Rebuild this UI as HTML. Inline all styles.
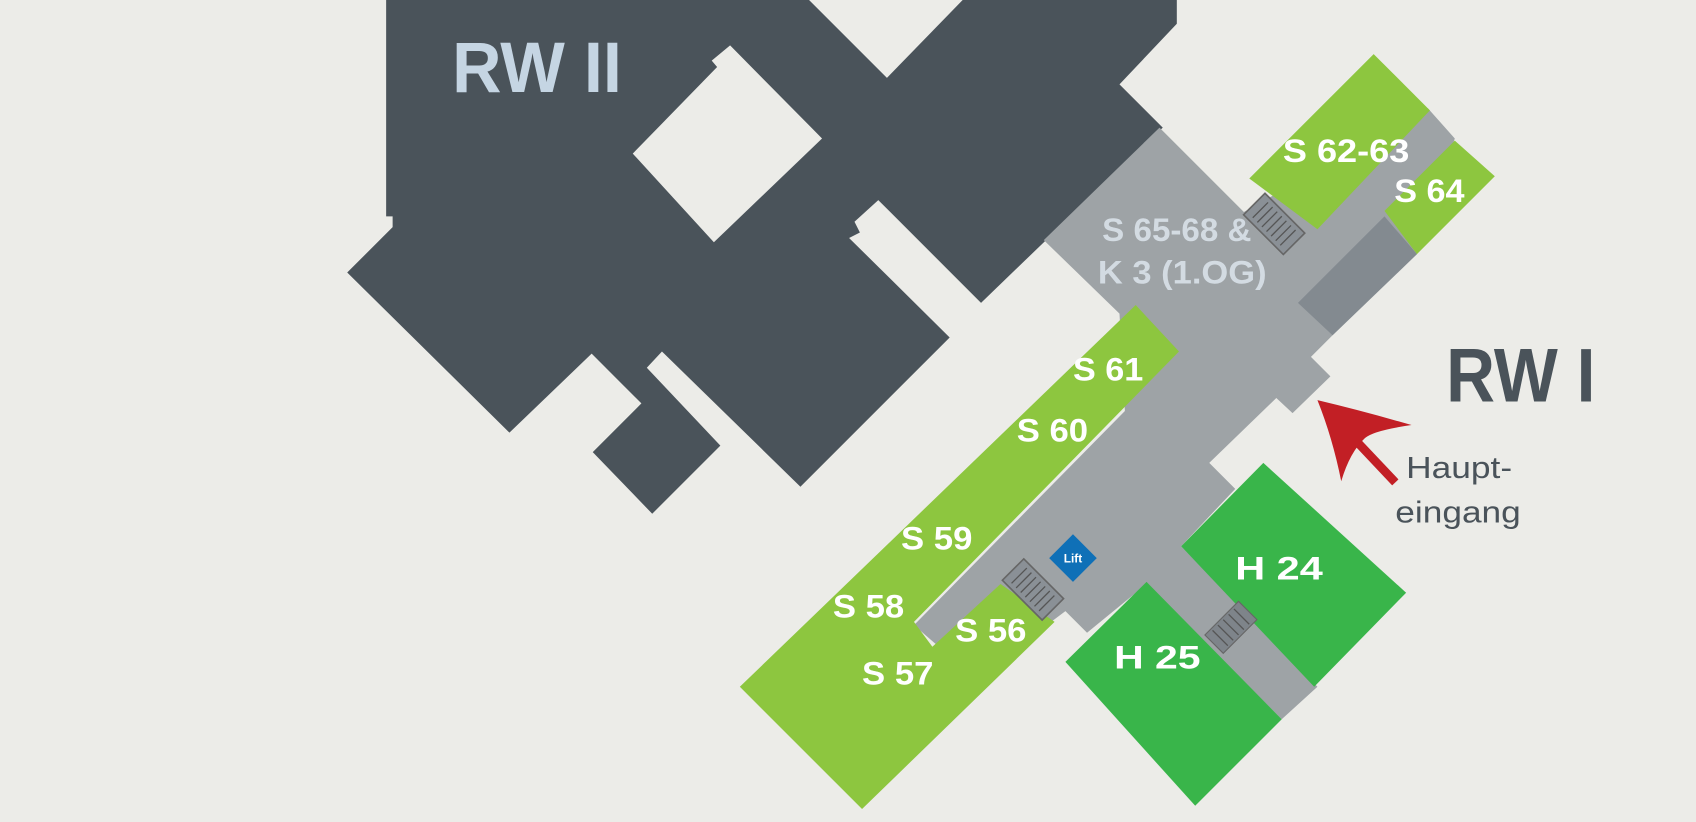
<!DOCTYPE html>
<html><head><meta charset="utf-8"><style>
html,body{margin:0;padding:0;background:#ecece8;}
svg{display:block;}
text{font-family:"Liberation Sans",sans-serif;}
</style></head><body>
<svg width="1696" height="822" viewBox="0 0 1568 760" preserveAspectRatio="none" xmlns="http://www.w3.org/2000/svg">
<rect width="1568" height="760" fill="#ecece8"/>
<!-- RW II dark building -->
<polygon fill="#4a535a" points="357,0 748,0 820,72 890,0 1088,0 1088,22 1035,78 1075,118 907,280 812,185 790,205 795,215 785,220 878,312 740,450 612,325 598,340 666,412 603,475 548,418 593,373 547,327 471,400 321,252 363,210 363,200 357,200"/>
<polygon fill="#ecece8" points="675,42 760,128 660,224 585,142 663,62 658,56"/>
<!-- grey corridor -->
<polygon fill="#9ea3a6" points="965,222 1072,118 1150,196 1320,100 1345,128 1310,235 1232,310 1212,330 1230,348 1195,382 1180,368 1118,428 1142,452 1092,505 1218,635 1185,665 1060,540 1005,585 985,565 965,580 868,598 845,578 1040,380 1035,290"/>
<polygon fill="#838a90" points="1200,280 1280,200 1310,235 1232,310"/>
<!-- light greens -->
<polygon fill="#8dc63f" points="684,635 1050,282 1090,325 845,575 862,598 925,540 975,575 797,748"/>
<polygon fill="#8dc63f" points="1155,165 1270,50 1322,102 1218,212"/>
<polygon fill="#8dc63f" points="1280,195 1345,130 1382,163 1310,235"/>
<!-- dark greens -->
<polygon fill="#39b54a" points="1092,505 1168,428 1300,548 1215,635"/>
<polygon fill="#39b54a" points="985,612 1060,538 1185,665 1105,745"/>
<!-- stairs -->
<g transform="translate(1178,207) rotate(45)"><rect x="-26" y="-14" width="52" height="28" fill="#8a9096" stroke="#666" stroke-width="1.5"/>
<g stroke="#555" stroke-width="1.2"><line x1="-18" y1="-10" x2="-18" y2="10"/><line x1="-12" y1="-10" x2="-12" y2="10"/><line x1="-6" y1="-10" x2="-6" y2="10"/><line x1="0" y1="-10" x2="0" y2="10"/><line x1="6" y1="-10" x2="6" y2="10"/><line x1="12" y1="-10" x2="12" y2="10"/><line x1="18" y1="-10" x2="18" y2="10"/></g></g>
<g transform="translate(955,545) rotate(45)"><rect x="-26" y="-14" width="52" height="28" fill="#8a9096" stroke="#666" stroke-width="1.5"/>
<g stroke="#555" stroke-width="1.2"><line x1="-18" y1="-10" x2="-18" y2="10"/><line x1="-12" y1="-10" x2="-12" y2="10"/><line x1="-6" y1="-10" x2="-6" y2="10"/><line x1="0" y1="-10" x2="0" y2="10"/><line x1="6" y1="-10" x2="6" y2="10"/><line x1="12" y1="-10" x2="12" y2="10"/><line x1="18" y1="-10" x2="18" y2="10"/></g></g>
<g transform="translate(1138,580) rotate(-45)"><rect x="-22" y="-12" width="44" height="24" fill="#7e848a" stroke="#666" stroke-width="1"/>
<g stroke="#555" stroke-width="1.2"><line x1="-14" y1="-10" x2="-14" y2="10"/><line x1="-7" y1="-10" x2="-7" y2="10"/><line x1="0" y1="-10" x2="0" y2="10"/><line x1="7" y1="-10" x2="7" y2="10"/><line x1="14" y1="-10" x2="14" y2="10"/></g></g>
<!-- lift -->
<polygon fill="#0f70b7" points="992,494 1014,516 992,538 970,516"/>
<text x="992" y="520" font-size="11" font-weight="bold" fill="#fff" text-anchor="middle">Lift</text>
<!-- arrow -->
<line x1="1256" y1="410" x2="1290" y2="446" stroke="#c21f25" stroke-width="8"/>
<path d="M1218,370 Q1260,380 1305,393 Q1270,398 1262,405 Q1248,418 1240,445 Q1232,405 1218,370 Z" fill="#c21f25"/>
<!-- texts -->
<text x="418" y="85" font-size="66" font-weight="bold" fill="#c5d5e3" textLength="157" lengthAdjust="spacingAndGlyphs">RW II</text>
<text x="1337" y="371" font-size="70" font-weight="bold" fill="#4a535a" textLength="138" lengthAdjust="spacingAndGlyphs">RW I</text>
<g font-size="30" font-weight="bold" fill="#fff">
<text x="1186" y="150" textLength="117" lengthAdjust="spacingAndGlyphs">S 62-63</text>
<text x="1289" y="187" textLength="65" lengthAdjust="spacingAndGlyphs">S 64</text>
<text x="992" y="352" textLength="65" lengthAdjust="spacingAndGlyphs">S 61</text>
<text x="940" y="408" textLength="66" lengthAdjust="spacingAndGlyphs">S 60</text>
<text x="833" y="508" textLength="66" lengthAdjust="spacingAndGlyphs">S 59</text>
<text x="770" y="571" textLength="66" lengthAdjust="spacingAndGlyphs">S 58</text>
<text x="883" y="593" textLength="66" lengthAdjust="spacingAndGlyphs">S 56</text>
<text x="797" y="633" textLength="66" lengthAdjust="spacingAndGlyphs">S 57</text>
<text x="1142" y="536" textLength="81" lengthAdjust="spacingAndGlyphs">H  24</text>
<text x="1030" y="618" textLength="80" lengthAdjust="spacingAndGlyphs">H  25</text>
</g>
<g font-size="30" font-weight="bold" fill="#d3dbe2">
<text x="1019" y="223" textLength="138" lengthAdjust="spacingAndGlyphs">S 65-68 &amp;</text>
<text x="1015" y="262" textLength="156" lengthAdjust="spacingAndGlyphs">K 3 (1.OG)</text>
</g>
<g font-size="28" fill="#4a535a">
<text x="1300" y="442" textLength="98" lengthAdjust="spacingAndGlyphs">Haupt-</text>
<text x="1290" y="483" textLength="116" lengthAdjust="spacingAndGlyphs">eingang</text>
</g>
</svg>
</body></html>
